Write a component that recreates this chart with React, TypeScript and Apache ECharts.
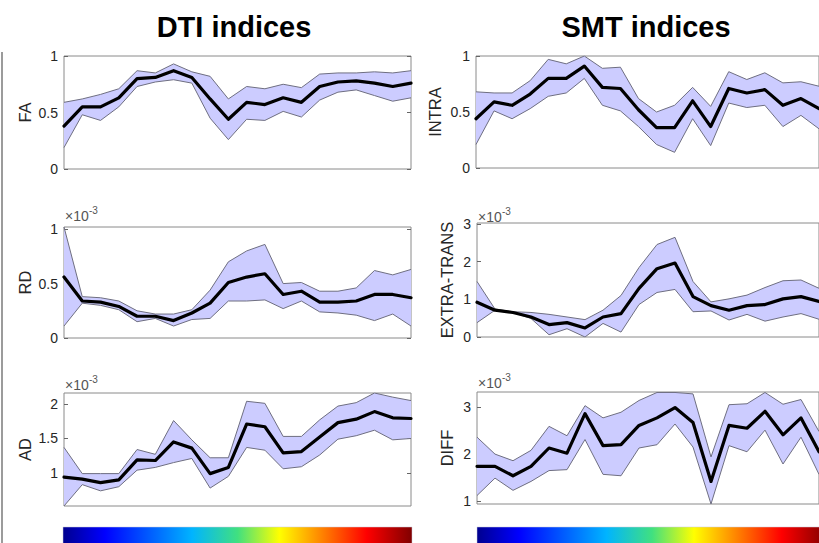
import React, { useEffect, useRef } from 'react';
import * as echarts from 'echarts';

const SEGMENTS = [1, 2, 3, 4, 5, 6, 7, 8, 9, 10, 11, 12, 13, 14, 15, 16, 17, 18, 19, 20];

// DTI indices
const FA_MEAN = [0.38, 0.55, 0.55, 0.63, 0.80, 0.81, 0.87, 0.81, 0.62, 0.44, 0.59, 0.57, 0.63, 0.59, 0.73, 0.77, 0.78, 0.76, 0.73, 0.76];
const FA_HI = [0.59, 0.62, 0.66, 0.71, 0.87, 0.85, 0.93, 0.86, 0.82, 0.62, 0.73, 0.71, 0.75, 0.72, 0.84, 0.85, 0.85, 0.86, 0.85, 0.87];
const FA_LO = [0.19, 0.48, 0.43, 0.55, 0.73, 0.77, 0.79, 0.76, 0.45, 0.26, 0.44, 0.43, 0.51, 0.46, 0.61, 0.68, 0.70, 0.65, 0.60, 0.63];

const RD_MEAN = [0.56, 0.34, 0.33, 0.29, 0.20, 0.20, 0.16, 0.23, 0.32, 0.51, 0.56, 0.59, 0.40, 0.43, 0.33, 0.33, 0.34, 0.40, 0.40, 0.37];
const RD_HI = [1.02, 0.38, 0.37, 0.34, 0.25, 0.22, 0.22, 0.26, 0.44, 0.70, 0.80, 0.86, 0.50, 0.51, 0.43, 0.43, 0.46, 0.62, 0.58, 0.63];
const RD_LO = [0.11, 0.32, 0.30, 0.26, 0.15, 0.18, 0.11, 0.17, 0.18, 0.34, 0.34, 0.35, 0.27, 0.34, 0.24, 0.23, 0.21, 0.16, 0.22, 0.11];

const AD_MEAN = [0.94, 0.91, 0.86, 0.90, 1.19, 1.18, 1.45, 1.36, 0.99, 1.08, 1.71, 1.67, 1.29, 1.31, 1.52, 1.73, 1.78, 1.89, 1.80, 1.79];
const AD_HI = [1.37, 0.99, 0.99, 0.99, 1.34, 1.27, 1.76, 1.48, 1.22, 1.22, 2.04, 2.01, 1.53, 1.53, 1.77, 1.97, 2.02, 2.16, 2.10, 2.05];
const AD_LO = [0.52, 0.83, 0.74, 0.80, 1.04, 1.08, 1.15, 1.21, 0.78, 0.95, 1.37, 1.33, 1.06, 1.09, 1.26, 1.49, 1.54, 1.62, 1.48, 1.50];

// SMT indices
const INTRA_MEAN = [0.44, 0.59, 0.56, 0.66, 0.80, 0.80, 0.91, 0.72, 0.71, 0.52, 0.36, 0.36, 0.60, 0.37, 0.71, 0.67, 0.70, 0.56, 0.62, 0.53];
const INTRA_HI = [0.68, 0.67, 0.67, 0.78, 0.97, 0.93, 1.00, 0.89, 0.90, 0.62, 0.50, 0.56, 0.72, 0.55, 0.86, 0.79, 0.85, 0.76, 0.77, 0.73];
const INTRA_LO = [0.21, 0.51, 0.44, 0.53, 0.64, 0.67, 0.80, 0.56, 0.51, 0.37, 0.21, 0.14, 0.44, 0.20, 0.58, 0.54, 0.56, 0.37, 0.47, 0.35];

const EXTRA_MEAN = [0.92, 0.71, 0.65, 0.53, 0.33, 0.38, 0.24, 0.53, 0.62, 1.29, 1.81, 1.96, 1.07, 0.83, 0.71, 0.83, 0.86, 1.01, 1.07, 0.94];
const EXTRA_HI = [1.47, 0.74, 0.67, 0.65, 0.60, 0.53, 0.46, 0.71, 1.10, 1.84, 2.45, 2.64, 1.47, 0.93, 1.01, 1.11, 1.31, 1.49, 1.51, 1.29];
const EXTRA_LO = [0.38, 0.71, 0.65, 0.49, 0.06, 0.22, 0.0, 0.36, 0.13, 0.86, 1.18, 1.26, 0.67, 0.69, 0.45, 0.60, 0.42, 0.53, 0.62, 0.47];

const DIFF_MEAN = [1.74, 1.74, 1.54, 1.74, 2.13, 2.02, 2.86, 2.18, 2.20, 2.61, 2.77, 2.99, 2.67, 1.42, 2.61, 2.55, 2.91, 2.41, 2.77, 2.05];
const DIFF_HI = [2.36, 2.00, 1.86, 2.08, 2.59, 2.39, 3.03, 2.77, 2.89, 3.14, 3.31, 3.31, 3.28, 1.94, 3.05, 3.07, 3.31, 3.06, 3.16, 2.48];
const DIFF_LO = [1.12, 1.49, 1.23, 1.42, 1.65, 1.67, 2.31, 1.57, 1.54, 2.13, 2.20, 2.64, 2.15, 0.94, 2.18, 2.05, 2.51, 1.79, 2.36, 1.57];

const FA_TICKS = [0, 0.5, 1];
const RD_TICKS = [0, 0.5, 1];
const AD_TICKS = [1, 1.5, 2];
const INTRA_TICKS = [0, 0.5, 1];
const EXTRA_TICKS = [0, 1, 2, 3];
const DIFF_TICKS = [1, 2, 3];

const TITLES = ['DTI indices', 'SMT indices'];
const EXPONENT = '×10';
const EXPONENT_POWER = '-3';

const FONT = '"Liberation Sans", Arial, Helvetica, sans-serif';

const JET = [
  [0, '#00008f'],
  [0.12, '#0000ff'],
  [0.37, '#00b4ff'],
  [0.5, '#40e080'],
  [0.62, '#ffff00'],
  [0.87, '#ff0000'],
  [1, '#800000'],
];

type Panel = {
  name: string;
  mean: number[];
  hi: number[];
  lo: number[];
  min: number;
  max: number;
  ticks: number[];
  left: number;
  top: number;
  width: number;
  height: number;
  nameGap: number;
  mirror: boolean;
  exp?: [number, number];
};

const PANELS: Panel[] = [
  { name: 'FA', mean: FA_MEAN, hi: FA_HI, lo: FA_LO, min: 0, max: 1, ticks: FA_TICKS, left: 64, top: 56, width: 347, height: 113, nameGap: 31, mirror: true },
  { name: 'RD', mean: RD_MEAN, hi: RD_HI, lo: RD_LO, min: 0, max: 1.02, ticks: RD_TICKS, left: 64, top: 227, width: 347, height: 111, nameGap: 31, mirror: true, exp: [65, 216] },
  { name: 'AD', mean: AD_MEAN, hi: AD_HI, lo: AD_LO, min: 0.52, max: 2.16, ticks: AD_TICKS, left: 64, top: 393, width: 347, height: 113, nameGap: 31, mirror: true, exp: [65, 385] },
  { name: 'INTRA', mean: INTRA_MEAN, hi: INTRA_HI, lo: INTRA_LO, min: 0, max: 1, ticks: INTRA_TICKS, left: 476, top: 56, width: 347, height: 112, nameGap: 33, mirror: false },
  { name: 'EXTRA-TRANS', mean: EXTRA_MEAN, hi: EXTRA_HI, lo: EXTRA_LO, min: 0, max: 3.02, ticks: EXTRA_TICKS, left: 477, top: 223, width: 347, height: 114, nameGap: 22, mirror: false, exp: [478, 217] },
  { name: 'DIFF', mean: DIFF_MEAN, hi: DIFF_HI, lo: DIFF_LO, min: 0.94, max: 3.32, ticks: DIFF_TICKS, left: 477, top: 392, width: 347, height: 112, nameGap: 22, mirror: false, exp: [478, 383] },
];

export default function App() {
  const ref = useRef<HTMLDivElement>(null);

  useEffect(() => {
    const chart = echarts.init(ref.current!, null, { renderer: 'svg' });
    const grid: any[] = [];
    const xAxis: any[] = [];
    const yAxis: any[] = [];
    const series: any[] = [];
    const graphic: any[] = [];

    PANELS.forEach((p, i) => {
      grid.push({
        left: p.left,
        top: p.top,
        width: p.width,
        height: p.height,
        show: true,
        borderColor: '#8a8a8a',
        borderWidth: 1,
        backgroundColor: 'transparent',
      });
      xAxis.push({
        type: 'category',
        gridIndex: i,
        data: SEGMENTS,
        boundaryGap: false,
        show: false,
      });
      const yi = yAxis.length;
      yAxis.push({
        type: 'value',
        gridIndex: i,
        min: p.min,
        max: p.max,
        position: 'left',
        name: p.name,
        nameLocation: 'middle',
        nameRotate: 90,
        nameGap: p.nameGap,
        nameTextStyle: { fontSize: 16.5, color: '#262626', fontFamily: FONT },
        axisLine: { show: false },
        splitLine: { show: false },
        axisTick: { show: true, inside: true, length: 4, lineStyle: { color: '#666' }, customValues: p.ticks },
        axisLabel: {
          customValues: p.ticks,
          formatter: (v: number) => String(v),
          color: '#262626',
          fontSize: 14,
          fontFamily: FONT,
          margin: 6,
        },
      });
      if (p.mirror) {
        yAxis.push({
          type: 'value',
          gridIndex: i,
          min: p.min,
          max: p.max,
          position: 'right',
          axisLine: { show: false },
          splitLine: { show: false },
          axisTick: { show: true, inside: true, length: 4, lineStyle: { color: '#666' }, customValues: p.ticks },
          axisLabel: { show: false },
        });
      }
      const stack = 'band' + i;
      series.push({
        type: 'line',
        xAxisIndex: i,
        yAxisIndex: yi,
        data: p.lo,
        stack,
        symbol: 'none',
        lineStyle: { color: '#6e6e80', width: 1 },
        z: 3,
      });
      series.push({
        type: 'line',
        xAxisIndex: i,
        yAxisIndex: yi,
        data: p.hi.map((h, k) => +(h - p.lo[k]).toFixed(4)),
        stack,
        symbol: 'none',
        lineStyle: { color: '#6e6e80', width: 1 },
        areaStyle: { color: '#ccccff', opacity: 1 },
        z: 2,
      });
      series.push({
        type: 'line',
        xAxisIndex: i,
        yAxisIndex: yi,
        data: p.mean,
        symbol: 'none',
        lineStyle: { color: '#000', width: 3.2, cap: 'round', join: 'round' },
        z: 4,
      });
      if (p.exp) {
        graphic.push({
          type: 'text',
          x: p.exp[0],
          y: p.exp[1],
          style: { text: EXPONENT, fontSize: 14, fill: '#555', fontFamily: FONT, verticalAlign: 'middle', align: 'left' },
        });
        graphic.push({
          type: 'text',
          x: p.exp[0] + 24,
          y: p.exp[1] - 6,
          style: { text: EXPONENT_POWER, fontSize: 10, fill: '#555', fontFamily: FONT, verticalAlign: 'middle', align: 'left' },
        });
      }
    });

    graphic.push({
      type: 'text',
      x: 234,
      y: 27,
      style: { text: TITLES[0], fontSize: 29, fontWeight: 'bold', fill: '#000', fontFamily: FONT, align: 'center', verticalAlign: 'middle' },
    });
    graphic.push({
      type: 'text',
      x: 646,
      y: 27,
      style: { text: TITLES[1], fontSize: 29, fontWeight: 'bold', fill: '#000', fontFamily: FONT, align: 'center', verticalAlign: 'middle' },
    });
    graphic.push({
      type: 'line',
      shape: { x1: 2, y1: 52, x2: 2, y2: 543 },
      style: { stroke: '#7a7a7a', lineWidth: 1.5 },
    });
    const jetFill = () =>
      new echarts.graphic.LinearGradient(0, 0, 1, 0, JET.map(([o, c]) => ({ offset: o as number, color: c as string })));
    graphic.push({
      type: 'rect',
      shape: { x: 63, y: 527, width: 349, height: 20 },
      style: { fill: jetFill(), stroke: '#c8c8d8', lineWidth: 0.5 },
    });
    graphic.push({
      type: 'rect',
      shape: { x: 477, y: 527, width: 350, height: 20 },
      style: { fill: jetFill(), stroke: '#c8c8d8', lineWidth: 0.5 },
    });

    chart.setOption({
      animation: false,
      backgroundColor: '#fff',
      grid,
      xAxis,
      yAxis,
      series,
      graphic,
    });
    return () => chart.dispose();
  }, []);

  return (
    <div
      ref={ref}
      style={{ position: 'absolute', left: 0, top: 0, width: 819, height: 543 }}
    />
  );
}
